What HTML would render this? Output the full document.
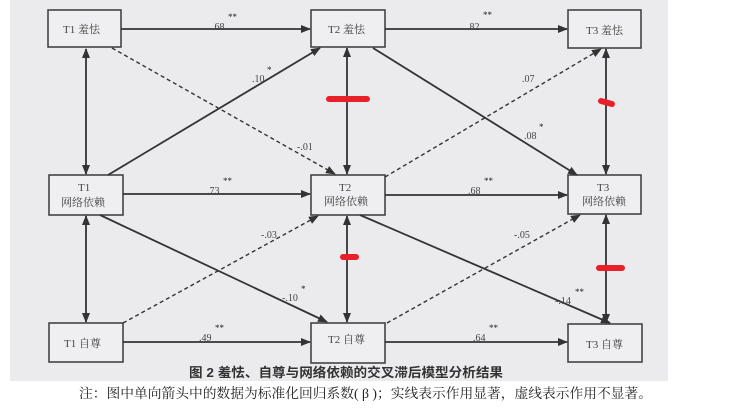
<!DOCTYPE html>
<html><head><meta charset="utf-8"><style>
body{margin:0;background:#fff;width:738px;height:409px;overflow:hidden}
svg{display:block}
text{font-family:"Liberation Serif","Noto Serif CJK SC",serif;fill:#444}
</style></head><body>
<svg width="738" height="409" viewBox="0 0 738 409">
<defs>
<marker id="a" markerWidth="10" markerHeight="8" refX="9" refY="4" orient="auto-start-reverse" markerUnits="userSpaceOnUse">
<path d="M0,0 L10,4 L0,8 z" fill="#333"/></marker>
</defs>
<rect x="10" y="0" width="658" height="381" fill="#ebebee"/>
<g fill="#efeff1" stroke="#444" stroke-width="1.6">
<rect x="48" y="10" width="73" height="37"/>
<rect x="311" y="10" width="74" height="37"/>
<rect x="568" y="10" width="73" height="38"/>
<rect x="49" y="175" width="74" height="40"/>
<rect x="311" y="175" width="74" height="40"/>
<rect x="568" y="175" width="73" height="39"/>
<rect x="49" y="323" width="74" height="39"/>
<rect x="311" y="323" width="74" height="40"/>
<rect x="568" y="324" width="74" height="38"/>
</g>
<g stroke="#333" stroke-width="1.8" fill="none" marker-end="url(#a)">
<line x1="121" y1="29" x2="310" y2="29"/>
<line x1="385" y1="29" x2="567" y2="29"/>
<line x1="123" y1="194" x2="310" y2="194"/>
<line x1="385" y1="195" x2="567" y2="195"/>
<line x1="123" y1="342" x2="310" y2="342"/>
<line x1="385" y1="342" x2="567" y2="342"/>
<line x1="108" y1="175" x2="320" y2="48"/>
<line x1="373" y1="48" x2="577" y2="175"/>
<line x1="100" y1="215" x2="327" y2="322"/>
<line x1="360" y1="215" x2="610" y2="323"/>
<line x1="86" y1="49" x2="86" y2="174" marker-start="url(#a)"/>
<line x1="86" y1="216" x2="86" y2="322" marker-start="url(#a)"/>
<line x1="347" y1="48" x2="347" y2="174" marker-start="url(#a)"/>
<line x1="347" y1="216" x2="347" y2="322" marker-start="url(#a)"/>
<line x1="606" y1="49" x2="606" y2="174" marker-start="url(#a)"/>
<line x1="606" y1="215" x2="606" y2="323" marker-start="url(#a)"/>
</g>
<g stroke="#333" stroke-width="1.4" fill="none" stroke-dasharray="4,3" marker-end="url(#a)">
<line x1="112" y1="48" x2="335" y2="174"/>
<line x1="385" y1="177" x2="601" y2="49"/>
<line x1="123" y1="323" x2="318" y2="216"/>
<line x1="387" y1="323" x2="580" y2="215"/>
</g>
<g stroke="#e8202a" stroke-linecap="round" fill="none">
<line x1="329" y1="99" x2="367" y2="99" stroke-width="6"/>
<line x1="601" y1="101" x2="612" y2="104" stroke-width="6"/>
<line x1="343" y1="257" x2="356" y2="257" stroke-width="6"/>
<line x1="599" y1="268" x2="622" y2="268" stroke-width="6"/>
</g>
<g font-size="11">
<text x="63" y="33">T1  羞怯</text>
<text x="328" y="33">T2 羞怯</text>
<text x="586" y="34">T3 羞怯</text>
<text x="78" y="191">T1</text><text x="61" y="206">网络依赖</text>
<text x="339" y="191">T2</text><text x="324" y="205">网络依赖</text>
<text x="597" y="191">T3</text><text x="582" y="205">网络依赖</text>
<text x="64" y="347">T1   自尊</text>
<text x="328" y="343">T2 自尊</text>
<text x="586" y="348">T3 自尊</text>
</g>
<g font-size="10">
<text x="212" y="30">.68</text><text x="228" y="20" font-size="9" style="fill:#222">**</text>
<text x="467" y="30">.82</text><text x="483" y="18" font-size="9" style="fill:#222">**</text>
<text x="207" y="194">.73</text><text x="223" y="184" font-size="9" style="fill:#222">**</text>
<text x="468" y="194">.68</text><text x="484" y="184" font-size="9" style="fill:#222">**</text>
<text x="199" y="341">.49</text><text x="215" y="331" font-size="9" style="fill:#222">**</text>
<text x="473" y="341">.64</text><text x="489" y="331" font-size="9" style="fill:#222">**</text>
<text x="252" y="82">.10</text><text x="267" y="73" font-size="9" style="fill:#222">*</text>
<text x="297" y="150">-.01</text>
<text x="522" y="82">.07</text>
<text x="524" y="139">.08</text><text x="539" y="130" font-size="9" style="fill:#222">*</text>
<text x="261" y="238">-.03</text>
<text x="514" y="238">-.05</text>
<text x="282" y="301">-.10</text><text x="301" y="292" font-size="9" style="fill:#222">*</text>
<text x="555" y="304">-.14</text><text x="575" y="295" font-size="9" style="fill:#222">**</text>
</g>
<text x="189" y="377" font-size="13" font-weight="bold" textLength="314" lengthAdjust="spacingAndGlyphs" style="font-family:'Liberation Sans','Noto Sans CJK SC',sans-serif;fill:#333">图 2   羞怯、自尊与网络依赖的交叉滞后模型分析结果</text>
<text x="79" y="398" font-size="13.5" textLength="573" lengthAdjust="spacingAndGlyphs" style="fill:#222">注：图中单向箭头中的数据为标准化回归系数( β )；实线表示作用显著，虚线表示作用不显著。</text>
</svg>
</body></html>
